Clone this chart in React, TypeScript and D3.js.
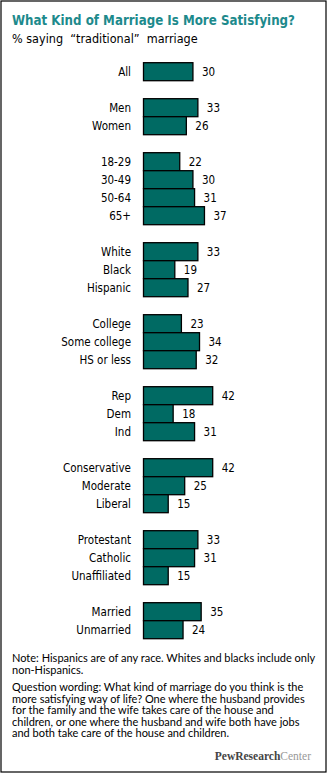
import React from "react";
import * as d3 from "d3";

const categories = [
  "All",
  "Men", "Women",
  "18-29", "30-49", "50-64", "65+",
  "White", "Black", "Hispanic",
  "College", "Some college", "HS or less",
  "Rep", "Dem", "Ind",
  "Conservative", "Moderate", "Liberal",
  "Protestant", "Catholic", "Unaffiliated",
  "Married", "Unmarried",
];
const values = [30, 33, 26, 22, 30, 31, 37, 33, 19, 27, 23, 34, 32, 42, 18, 31, 42, 25, 15, 33, 31, 15, 35, 24];
const groupSizes = [1, 2, 4, 3, 3, 3, 3, 3, 2];

const title = "What Kind of Marriage Is More Satisfying?";
const subtitle = "% saying  \u201Ctraditional\u201D  marriage";
const noteLines = [
  "Note: Hispanics are of any race. Whites and blacks include only",
  "non-Hispanics.",
];
const wordingLines = [
  "Question wording: What kind of marriage do you think is the",
  "more satisfying way of life? One where the husband provides",
  "for the family and the wife takes care of the house and",
  "children, or one where the husband and wife both have jobs",
  "and both take care of the house and children.",
];

const W = 327;
const H = 774;
const TEAL = "#1d8a8c";
const BAR = "#006a63";
const LABEL_FONT = "'DejaVu Sans Condensed', 'DejaVu Sans', sans-serif";
const NOTE_FONT = "Lato, 'Liberation Sans', sans-serif";

export default function App() {
  const rows: number[] = [];
  let r = 0;
  groupSizes.forEach((n) => {
    for (let i = 0; i < n; i++) rows.push(r++);
    r++;
  });
  const totalRows = rows[rows.length - 1] + 1;

  const x = d3.scaleLinear().domain([0, 42]).range([143.5, 212.7]);
  const y = d3.scaleLinear().domain([0, totalRows]).range([62.7, 62.7 + 18 * totalRows]);
  const rowH = y(1) - y(0);

  return (
    <svg
      width={W}
      height={H}
      style={{ position: "absolute", left: 0, top: 0, background: "#fff" }}
    >
      <rect x={1} y={1} width={W - 2} height={H - 3} fill="#fff" stroke="#000" strokeWidth={1.2} />
      <text
        x={12}
        y={24.5}
        fill={TEAL}
        fontFamily={LABEL_FONT}
        fontWeight="bold"
        fontSize={14.5}
        textLength={283}
        lengthAdjust="spacingAndGlyphs"
      >
        {title}
      </text>
      <text x={12} y={43} fill="#000" fontFamily={LABEL_FONT} fontSize={12.5} style={{ whiteSpace: "pre" }}>
        {subtitle}
      </text>
      {categories.map((c, i) => {
        const yy = y(rows[i]);
        const v = values[i];
        return (
          <g key={c}>
            <rect
              x={x(0)}
              y={yy}
              width={x(v) - x(0)}
              height={rowH}
              fill={BAR}
              stroke="#000"
              strokeWidth={1.3}
            />
            <text x={131} y={yy + 13} textAnchor="end" fontFamily={LABEL_FONT} fontSize={11.5} fill="#000">
              {c}
            </text>
            <text x={x(v) + 9} y={yy + 13} fontFamily={LABEL_FONT} fontSize={11.5} fill="#000">
              {v}
            </text>
          </g>
        );
      })}
      {noteLines.map((l, i) => (
        <text key={"n" + i} x={12} y={662 + i * 11.6} fontFamily={NOTE_FONT} fontSize={11} fill="#000">
          {l}
        </text>
      ))}
      {wordingLines.map((l, i) => (
        <text key={"w" + i} x={12} y={691 + i * 11.6} fontFamily={NOTE_FONT} fontSize={11} fill="#000">
          {l}
        </text>
      ))}
      <text x={311} y={760} textAnchor="end" fontFamily="'Liberation Serif', serif" fontSize={11.5}>
        <tspan fontWeight="bold" fill="#444">PewResearch</tspan>
        <tspan fill="#999">Center</tspan>
      </text>
    </svg>
  );
}
